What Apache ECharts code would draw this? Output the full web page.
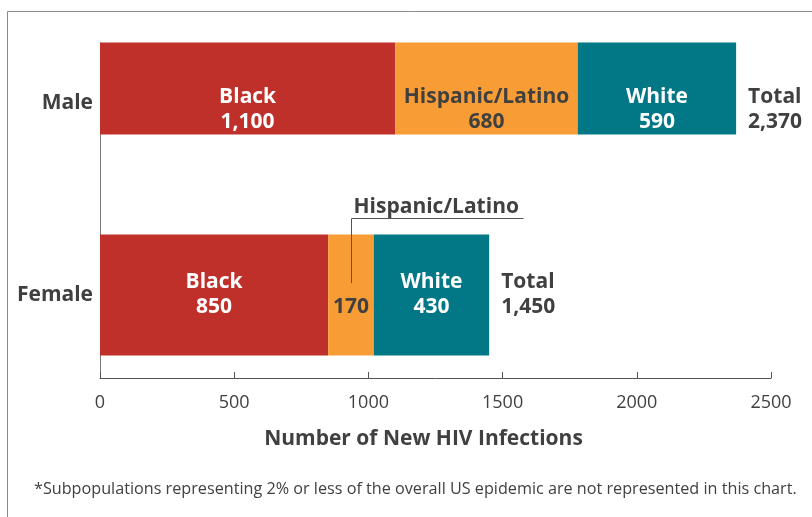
<!DOCTYPE html>
<html>
<head>
<meta charset="utf-8">
<script src="https://cdn.jsdelivr.net/npm/echarts@6/dist/echarts.min.js"></script>
<style>
html,body{margin:0;padding:0;background:#fff;}
#chart{width:812px;height:517px;}
</style>
</head>
<body>
<div id="chart"></div>
<script>
const categories = ['Male', 'Female'];
const groups = ['Black', 'Hispanic/Latino', 'White'];
const maleValues = [1100, 680, 590];
const femaleValues = [850, 170, 430];
const totals = [2370, 1450];
const xMin = 0, xMax = 2500, xStep = 500;
const axisTitle = 'Number of New HIV Infections';
const footnote = '*Subpopulations representing 2% or less of the overall US epidemic are not represented in this chart.';

const colors = ['#C0302A', '#F89D35', '#027886'];
const labelColors = ['#ffffff', '#404040', '#ffffff'];
const dark = '#404040';
const FONT = 'Open Sans';

function fmt(v) { return v.toLocaleString('en-US'); }

const chart = echarts.init(document.getElementById('chart'), null, {renderer: 'canvas'});

const series = [];
function addStack(stackId, values, catIdx, width, offsetY, hideNameIdx) {
  values.forEach((v, i) => {
    const data = categories.map((c, k) => k === catIdx ? v : '-');
    series.push({
      type: 'bar', name: groups[i] + ' ' + categories[catIdx], stack: stackId,
      xAxisIndex: 0, yAxisIndex: 0,
      barWidth: width, barGap: '-100%',
      itemStyle: {color: colors[i]},
      emphasis: {disabled: true},
      data: data,
      label: {
        show: true, position: 'inside', offset: [0, offsetY],
        color: labelColors[i], fontFamily: FONT, fontWeight: 'bold', fontSize: 21, lineHeight: 25,
        formatter: (p) => (i === hideNameIdx ? ' ' : groups[i]) + '\n' + fmt(p.value)
      }
    });
  });
  series.push({
    type: 'bar', name: 'Total ' + categories[catIdx], stack: stackId,
    xAxisIndex: 0, yAxisIndex: 0,
    barWidth: width, barGap: '-100%',
    itemStyle: {color: 'rgba(0,0,0,0)'},
    emphasis: {disabled: true},
    data: categories.map((c, k) => k === catIdx ? 0 : '-'),
    label: {
      show: true, position: 'right', distance: 12, offset: [0, offsetY], align: 'left',
      color: dark, fontFamily: FONT, fontWeight: 'bold', fontSize: 21, lineHeight: 25,
      formatter: () => 'Total\n' + fmt(totals[catIdx])
    }
  });
}
addStack('m', maleValues, 0, 92, 21, -1);
addStack('f', femaleValues, 1, 121, 0, 1);

const option = {
  animation: false,
  textStyle: {fontFamily: FONT},
  title: {
    text: footnote, left: 29, top: 476,
    textStyle: {fontFamily: FONT, fontWeight: 'normal', fontSize: 16.2, color: dark}
  },
  grid: [
    {left: 100, right: 41, top: 7, height: 384},
    {left: 100, right: 41, top: 43, bottom: 139}
  ],
  xAxis: [
    {gridIndex: 0, type: 'value', min: xMin, max: xMax, interval: xStep, show: false},
    {
      gridIndex: 1, type: 'value', min: xMin, max: xMax, interval: xStep,
      axisLine: {show: true, lineStyle: {color: '#555', width: 1}},
      axisTick: {show: true, inside: true, length: 6, lineStyle: {color: '#555'}},
      axisLabel: {color: dark, fontSize: 18, fontFamily: FONT, margin: 16, formatter: (v) => String(v)},
      splitLine: {show: false},
      name: axisTitle, nameLocation: 'middle', nameGap: 51,
      nameTextStyle: {color: dark, fontSize: 21, fontWeight: 'bold', fontFamily: FONT, padding: [0, 24, 0, 0]}
    }
  ],
  yAxis: [
    {
      gridIndex: 0, type: 'category', data: categories, inverse: true,
      axisLine: {show: false}, axisTick: {show: false}, splitLine: {show: false},
      axisLabel: {color: dark, fontSize: 21, fontWeight: 'bold', fontFamily: FONT, margin: 7}
    },
    {
      gridIndex: 1, type: 'value', min: 0, max: 1,
      axisLine: {show: true, lineStyle: {color: '#777', width: 1}},
      axisTick: {show: false}, axisLabel: {show: false}, splitLine: {show: false}
    }
  ],
  series: series
};
chart.setOption(option);

// callout for female Hispanic/Latino segment, placed through the axes' scales
const p = chart.convertToPixel({xAxisIndex: 0, yAxisIndex: 0}, [femaleValues[0] + femaleValues[1] / 2, categories[1]]);
const cx = Math.round(p[0]) + 0.5;
const lineTop = Math.round(p[1] - 77) + 0.5;
const lineBottom = Math.round(p[1] - 12);
chart.setOption({
  graphic: [
    {type: 'rect', silent: true, z: 100, shape: {x: 7.5, y: 11.5, width: 900, height: 700},
     style: {fill: 'none', stroke: '#8a8a8a', lineWidth: 1}},
    {type: 'polyline', silent: true, z: 100,
     shape: {points: [[cx, lineBottom], [cx, lineTop], [cx + 172, lineTop]]},
     style: {fill: 'none', stroke: '#555', lineWidth: 1}},
    {type: 'text', silent: true, z: 100, x: cx + 2, y: lineTop - 11,
     style: {text: groups[1], fill: dark, font: 'bold 21px "Open Sans"', textAlign: 'left', textVerticalAlign: 'middle'}}
  ]
});
</script>
</body>
</html>
